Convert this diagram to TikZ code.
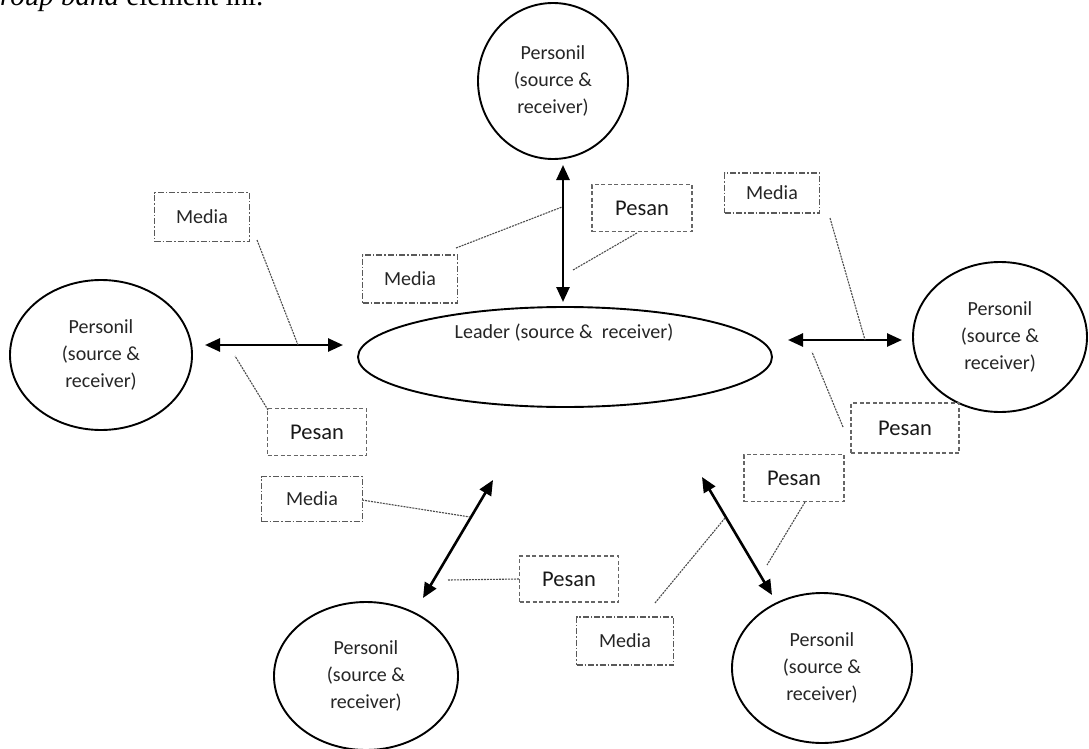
\documentclass[tikz,border=0pt]{standalone}
\usepackage{fontspec}
\setmainfont{Carlito}
\newfontfamily\docfont{Liberation Serif}
\usetikzlibrary{shapes.geometric,arrows.meta}
\begin{document}
\begin{tikzpicture}[x=1pt,y=-1pt,
  pers/.style={draw=black, ellipse, line width=1.9pt, inner sep=0pt, align=center,
    font=\fontsize{20}{27}\selectfont, text=black!85},
  mbox/.style={draw=black!65, line width=1.3pt, dash pattern=on 6pt off 2pt on 1.5pt off 2pt,
    inner sep=0pt, font=\fontsize{20}{24}\selectfont, text=black!85},
  pbox/.style={draw=black!60, line width=1.3pt, dash pattern=on 4pt off 2.5pt,
    inner sep=0pt, font=\fontsize{22.5}{26}\selectfont, text=black!90},
  arr/.style={line width=2.6pt, draw=black,
    {Triangle[length=15pt,width=13pt]}-{Triangle[length=15pt,width=13pt]}},
  lead/.style={draw=black!70, line width=1.1pt, dash pattern=on 2pt off 1pt}
]
\useasboundingbox (0,0) rectangle (1089,749);
\fill[white] (0,0) rectangle (1089,749);

% cropped document text at the top
\begin{scope}
  \clip (0,0) rectangle (1089,749);
  \node[anchor=base west, inner sep=0pt, font=\docfont\fontsize{29}{30}\selectfont] (doc) at (0,6) {\textit{roup band} element ini.};
\end{scope}

% ellipses
\node[pers, minimum width=150pt, minimum height=156pt] (top) at (553,81) {Personil\\(source \&\\receiver)};
\node[pers, minimum width=182pt, minimum height=150pt] (left) at (101,355) {Personil\\(source \&\\receiver)};
\node[pers, minimum width=174pt, minimum height=150pt] (right) at (1000,337) {Personil\\(source \&\\receiver)};
\node[pers, minimum width=184pt, minimum height=148pt] (bl) at (366,676) {Personil\\(source \&\\receiver)};
\node[pers, minimum width=180pt, minimum height=150pt] (br) at (822,668) {Personil\\(source \&\\receiver)};
\node[pers, minimum width=414pt, minimum height=100pt] (leader) at (565,357) {};
\node[inner sep=0pt, font=\fontsize{20}{24}\selectfont, text=black!85] (leadertext) at (564,333) {Leader (source \&\ \ receiver)};

% boxes
\node[mbox, minimum width=95pt, minimum height=49pt] (m1) at (202,217) {Media};
\node[pbox, minimum width=99pt, minimum height=47pt] (p1) at (317,432) {Pesan};
\node[mbox, minimum width=95pt, minimum height=48pt] (m2) at (410,279) {Media};
\node[pbox, minimum width=100pt, minimum height=47pt] (p2) at (642,208) {Pesan};
\node[mbox, minimum width=95pt, minimum height=40pt] (m3) at (772,193) {Media};
\node[pbox, minimum width=108pt, minimum height=50pt] (p3) at (905,428) {Pesan};
\node[pbox, minimum width=100pt, minimum height=47pt] (p4) at (794,478) {Pesan};
\node[mbox, minimum width=101pt, minimum height=45pt] (m4) at (312,499) {Media};
\node[pbox, minimum width=99pt, minimum height=46pt] (p5) at (569,579) {Pesan};
\node[mbox, minimum width=97pt, minimum height=48pt] (m5) at (625,641) {Media};

% arrow end points
\coordinate (a1s) at (563,165); \coordinate (a1e) at (563,302);
\coordinate (a2s) at (205,345); \coordinate (a2e) at (343,345);
\coordinate (a3s) at (788,340); \coordinate (a3e) at (902,340);
\coordinate (a4s) at (493,480); \coordinate (a4e) at (423,598);
\coordinate (a5s) at (702,477); \coordinate (a5e) at (772,595);

% arrows
\draw[arr] (a1s) -- (a1e);
\draw[arr] (a2s) -- (a2e);
\draw[arr] (a3s) -- (a3e);
\draw[arr] (a4s) -- (a4e);
\draw[arr] (a5s) -- (a5e);

% points on/near arrows
\coordinate (h1) at (562,207);
\coordinate (h2) at (573,270);
\coordinate (h3) at (298,345);
\coordinate (h4) at (235,356);
\coordinate (h5) at (865,340);
\coordinate (h6) at (812,352);
\coordinate (h7) at (470,517);
\coordinate (h8) at (448,580);
\coordinate (h9) at (767,565);
\coordinate (h10) at (725,518);

% box-side ends
\coordinate (e1) at (257,240);
\coordinate (e2) at (268,410);
\coordinate (e3) at (456,248);
\coordinate (e4) at (637,233);
\coordinate (e5) at (830,218);
\coordinate (e6) at (843,427);
\coordinate (e7) at (362,500);
\coordinate (e9) at (805,502);
\coordinate (e10) at (655,603);

% leader lines
\draw[lead] (e1) -- (h3);
\draw[lead] (e2) -- (h4);
\draw[lead] (e3) -- (h1);
\draw[lead] (e4) -- (h2);
\draw[lead] (e5) -- (h5);
\draw[lead] (e6) -- (h6);
\draw[lead] (e7) -- (h7);
\draw[lead] (p5.west) -- (h8);
\draw[lead] (e9) -- (h9);
\draw[lead] (e10) -- (h10);
\end{tikzpicture}
\end{document}
